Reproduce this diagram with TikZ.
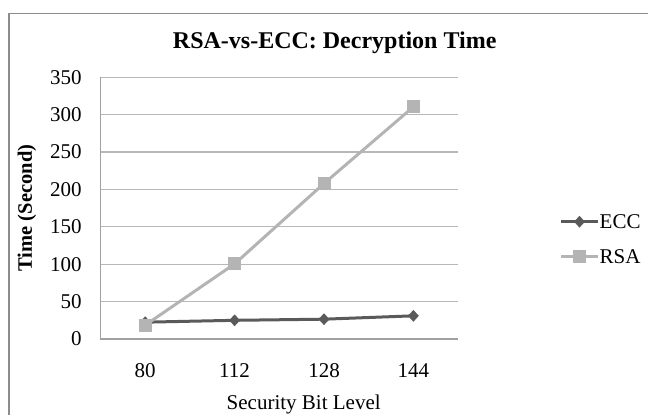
\documentclass[tikz,border=0pt]{standalone}
\usepackage{fontspec}
\setmainfont{Liberation Serif}
\usetikzlibrary{shapes.geometric}
\definecolor{frameg}{HTML}{8C8C8C}
\definecolor{axisg}{HTML}{A0A0A0}
\definecolor{gridg}{HTML}{B8B8B8}
\definecolor{eccg}{HTML}{5A5A5A}
\definecolor{rsag}{HTML}{B4B4B4}
\tikzset{
	gridline/.style={gridg, line width=1.3pt},
	axisline/.style={axisg, line width=1.3pt},
	eccline/.style={eccg, line width=3pt},
	rsaline/.style={rsag, line width=3pt},
	eccmark/.style={diamond, fill=eccg, inner sep=0pt, minimum width=11pt, minimum height=12pt},
	rsamark/.style={rectangle, fill=rsag, inner sep=0pt, minimum size=13pt},
	ticklab/.style={font=\fontsize{21}{21}\selectfont, inner sep=0pt},
	legtext/.style={font=\fontsize{21}{21}\selectfont, anchor=west, inner sep=1.5pt},
}
\begin{document}
\begin{tikzpicture}[x=1pt,y=-1pt]
	\useasboundingbox (0,0) rectangle (648,415);
	\draw[frameg, line width=1.5pt] (9,415) -- (9,13.3) -- (648,13.3);
	\node[font=\fontsize{24}{24}\selectfont\bfseries] (title) at (334.7,42.7) {RSA-vs-ECC: Decryption Time};
	\node[font=\fontsize{20.5}{20.5}\selectfont\bfseries, rotate=90] (ylab) at (27,208) {Time (Second)};
	\node[ticklab] (xlab) at (303.7,404) {Security Bit Level};

	\begin{scope}[shift={(100.5pt,-339pt)}, x=89.4pt, y=0.7477pt]
		\foreach \v in {50,100,...,350}
			\draw[gridline] (0,\v) -- (4,\v);
		\draw[axisline] (0,350) -- (0,0) -- (4,0);
		\foreach \v in {0,50,...,350}
			\node[ticklab, anchor=east] (t\v) at ([xshift=-18.8pt]0,\v) {\v};
		\foreach \lab [count=\i] in {80,112,128,144}
			\node[ticklab] (c\lab) at ([yshift=-31.7pt]\i-0.5,0) {\lab};

		\coordinate (e1) at (0.5,22.5);
		\coordinate (e2) at (1.5,25);
		\coordinate (e3) at (2.5,26.5);
		\coordinate (e4) at (3.5,31);
		\coordinate (r1) at (0.5,18.5);
		\coordinate (r2) at (1.5,100.5);
		\coordinate (r3) at (2.5,208);
		\coordinate (r4) at (3.5,310.5);

		\draw[eccline] (e1) -- (e2) -- (e3) -- (e4);
		\foreach \p in {e1,e2,e3,e4}
			\node[eccmark] (m\p) at (\p) {};
		\draw[rsaline] (r1) -- (r2) -- (r3) -- (r4);
		\foreach \p in {r1,r2,r3,r4}
			\node[rsamark] (m\p) at (\p) {};
	\end{scope}

	\coordinate (leccA) at (561,221.7);
	\coordinate (leccB) at (598,221.7);
	\draw[eccline] (leccA) -- (leccB);
	\node[eccmark] (leccM) at (579.5,221.7) {};
	\node[legtext] (leccT) at (leccB) {ECC};
	\coordinate (lrsaA) at (561,256.7);
	\coordinate (lrsaB) at (598,256.7);
	\draw[rsaline] (lrsaA) -- (lrsaB);
	\node[rsamark] (lrsaM) at (579.5,256.7) {};
	\node[legtext] (lrsaT) at (lrsaB) {RSA};
\end{tikzpicture}
\end{document}
